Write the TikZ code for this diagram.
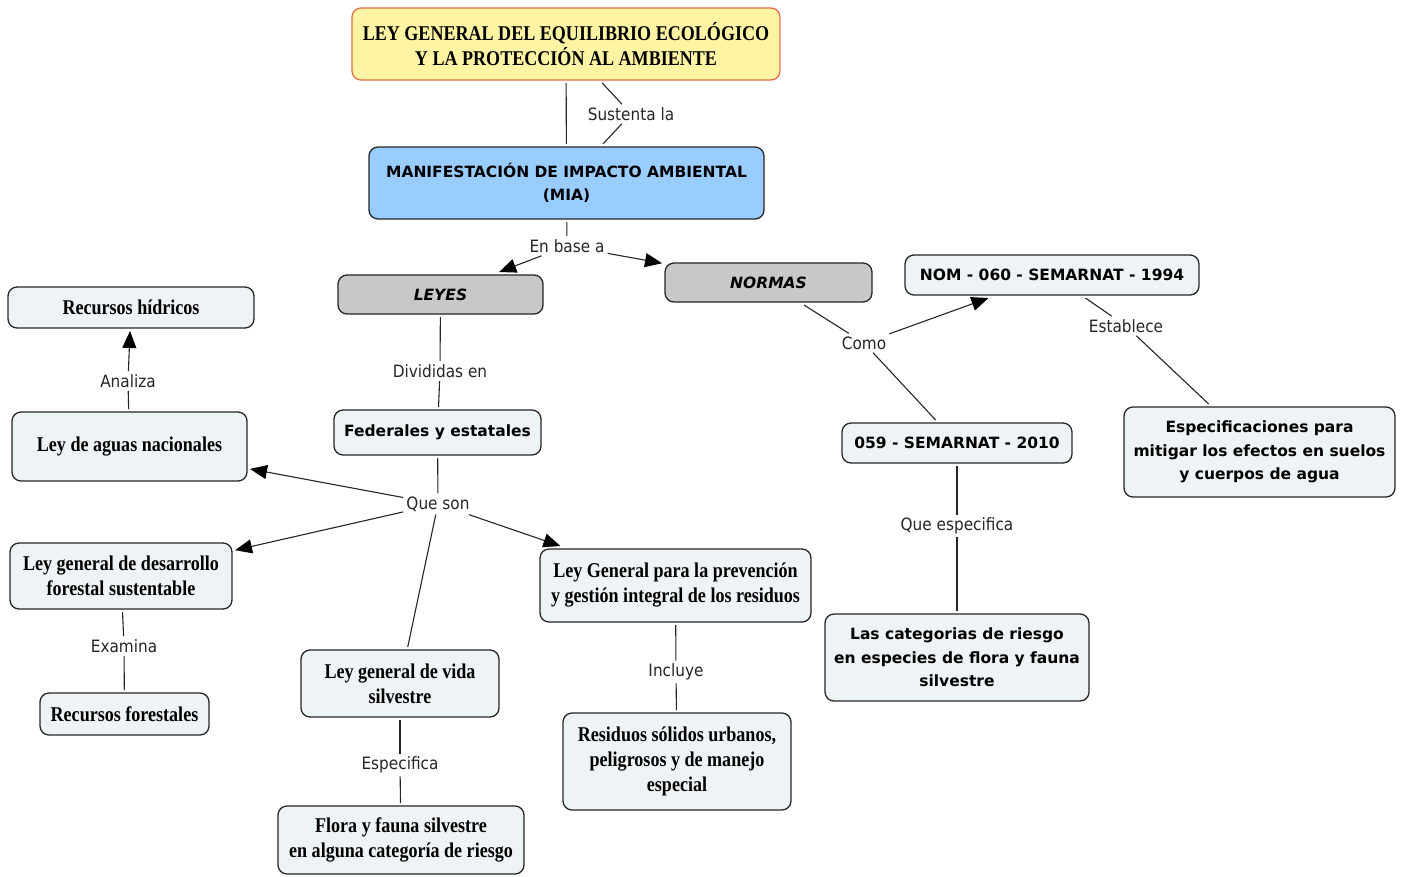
\documentclass[tikz,border=0pt]{standalone}
\usepackage{fontspec}
\usetikzlibrary{arrows.meta}
\newfontfamily\serifbox{Liberation Serif}[FakeStretch=0.86]
\newfontfamily\sansbox{DejaVu Sans}
\newfontfamily\lblfont{DejaVu Sans}[FakeStretch=0.9]
\definecolor{boxfill}{HTML}{EEF3F5}
\definecolor{yellowfill}{HTML}{FFF4A3}
\definecolor{yellowdraw}{HTML}{E0704C}
\definecolor{bluefill}{HTML}{99CCFF}
\definecolor{grayfill}{HTML}{C8C8C8}
\begin{document}
\begin{tikzpicture}[x=1pt,y=-1pt,
  box/.style={draw=black!85, line width=1.3pt, rounded corners=9pt, fill=boxfill, align=center, inner sep=0pt, outer sep=3pt},
  sz/.style 2 args={minimum width=#1pt, minimum height=#2pt},
  serifstyle/.style={font=\serifbox\bfseries\fontsize{21}{25}\selectfont},
  sansstyle/.style={font=\sansbox\bfseries\fontsize{15.5}{23.5}\selectfont},
  lbl/.style={font=\lblfont\fontsize{17}{20}\selectfont, text=black!85, inner sep=3pt},
  con/.style={draw=black!85, line width=1.1pt},
  arr/.style={con, -{Triangle[length=17pt,width=14pt,fill=black,color=black]}}
]
\useasboundingbox[fill=white] (0,0) rectangle (1404,876);

% concept boxes
\node[box, sz={428}{72}, fill=yellowfill, draw=yellowdraw, serifstyle] (lgeepa) at (566,44) {LEY GENERAL DEL EQUILIBRIO ECOLÓGICO\\Y LA PROTECCIÓN AL AMBIENTE};
\node[box, sz={395}{72}, fill=bluefill, sansstyle] (mia) at (566.5,183) {MANIFESTACIÓN DE IMPACTO AMBIENTAL\\(MIA)};
\node[box, sz={205}{39}, fill=grayfill, sansstyle] (leyes) at (440.5,294.5) {\itshape LEYES};
\node[box, sz={207}{39}, fill=grayfill, sansstyle] (normas) at (768.5,282.5) {\itshape NORMAS};
\node[box, sz={294}{40}, sansstyle] (nom) at (1052,275) {NOM - 060 - SEMARNAT - 1994};
\node[box, sz={230}{40}, sansstyle] (n059) at (957,443) {059 - SEMARNAT - 2010};
\node[box, sz={271}{90}, sansstyle] (spec) at (1259.5,452) {Especificaciones para\\mitigar los efectos en suelos\\y cuerpos de agua};
\node[box, sz={264}{87}, sansstyle] (cat) at (957,657.5) {Las categorias de riesgo\\en especies de flora y fauna\\silvestre};
\node[box, sz={246}{41}, serifstyle] (hidr) at (131,307.5) {Recursos hídricos};
\node[box, sz={235}{69}, serifstyle] (aguas) at (129.5,446.5) {Ley de aguas nacionales};
\node[box, sz={207}{45}, sansstyle] (fed) at (437.5,432.5) {Federales y estatales};
\node[box, sz={222}{66}, serifstyle] (forest) at (121,576) {Ley general de desarrollo\\forestal sustentable};
\node[box, sz={169}{42}, serifstyle] (recfor) at (124.5,714) {Recursos forestales};
\node[box, sz={198}{67}, serifstyle] (vida) at (400,683.5) {Ley general de vida\\silvestre};
\node[box, sz={246}{68}, serifstyle] (flora) at (401,840) {Flora y fauna silvestre\\en alguna categoría de riesgo};
\node[box, sz={271}{73}, serifstyle] (prev) at (675.5,585.5) {Ley General para la prevención\\y gestión integral de los residuos};
\node[box, sz={228}{97}, serifstyle] (resid) at (677,761.5) {Residuos sólidos urbanos,\\peligrosos y de manejo\\especial};

% linking phrases
\node[lbl] (sust) at (631,114) {Sustenta la};
\node[lbl] (enbase) at (567,246) {En base a};
\node[lbl] (como) at (864,343) {Como};
\node[lbl] (estab) at (1126,326) {Establece};
\node[lbl] (queesp) at (957,526) {Que especifica};
\node[lbl] (analiza) at (128,381) {Analiza};
\node[lbl] (divid) at (440,371) {Divididas en};
\node[lbl] (queson) at (438,504) {Que son};
\node[lbl] (examina) at (124,646) {Examina};
\node[lbl] (especif) at (400,765) {Especifica};
\node[lbl] (incluye) at (676,672) {Incluye};

% connectors
\draw[con] (lgeepa) -- (mia);
\draw[con] (lgeepa) -- (sust);
\draw[con] (sust) -- (mia);
\draw[con] (mia) -- (enbase);
\draw[arr] (enbase) -- (leyes);
\draw[arr] (enbase) -- (normas);
\draw[con] (normas) -- (como);
\draw[arr] (como) -- (nom);
\draw[con] (como) -- (n059);
\draw[con] (nom) -- (estab);
\draw[con] (estab) -- (spec);
\draw[con] (n059) -- (queesp);
\draw[con] (queesp) -- (cat);
\draw[con] (leyes) -- (divid);
\draw[con] (divid) -- (fed);
\draw[con] (fed) -- (queson);
\draw[arr] (queson) -- (aguas);
\draw[arr] (queson) -- (forest);
\draw[con] (queson) -- (vida);
\draw[arr] (queson) -- (prev);
\draw[con] (aguas) -- (analiza);
\draw[arr] (analiza) -- (hidr);
\draw[con] (forest) -- (examina);
\draw[con] (examina) -- (recfor);
\draw[con] (vida) -- (especif);
\draw[con] (especif) -- (flora);
\draw[con] (prev) -- (incluye);
\draw[con] (incluye) -- (resid);
\end{tikzpicture}
\end{document}
